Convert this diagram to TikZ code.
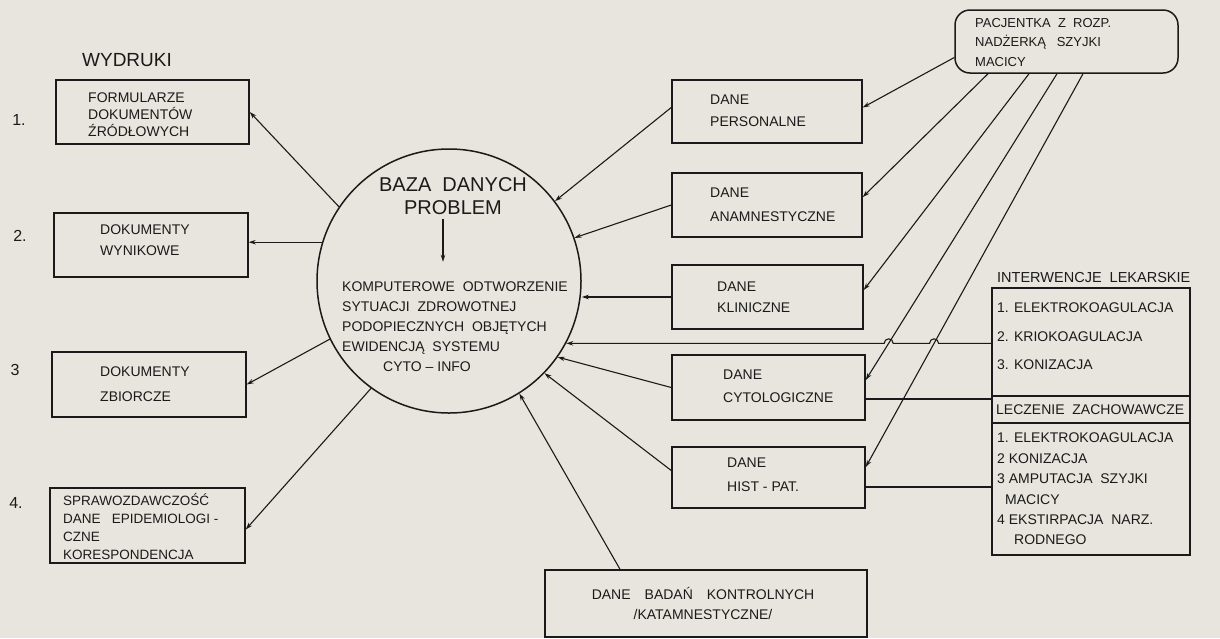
\documentclass[tikz,border=0pt]{standalone}
\usepackage{fontspec}
\setmainfont{Liberation Sans}
\usetikzlibrary{arrows.meta,intersections,calc}
\definecolor{paper}{RGB}{231,229,221}
\definecolor{ink}{RGB}{26,26,26}

\begin{document}
\begin{tikzpicture}[x=1pt,y=-1pt,
  box/.style={draw=ink, line width=1.5pt, rectangle, inner sep=0pt},
  txt/.style={text=ink, align=left, inner sep=0pt, anchor=west},
  fs/.style 2 args={font=\fontsize{#1}{#2}\selectfont},
  ln/.style={draw=ink, line width=1.1pt},
  arr/.style={ln, -{Stealth[length=7pt,width=4.5pt]}}
]
\fill[paper] (0,0) rectangle (1220,638);
\useasboundingbox (0,0) rectangle (1220,638);

% central data base
\node[circle, draw=ink, line width=1.5pt, minimum size=264pt, inner sep=0pt] (base) at (449,281) {};
\node[text=ink, align=center, inner sep=0pt, fs={20}{23}] (bz) at (453,196) {BAZA\ \ DANYCH\\PROBLEM};
\node[txt, fs={14}{20}] (kt) at (342,327) {KOMPUTEROWE\ \ ODTWORZENIE\\SYTUACJI\ \ ZDROWOTNEJ\\PODOPIECZNYCH\ \ OBJĘTYCH\\EWIDENCJĄ\ \ SYSTEMU\\\hspace*{41pt}CYTO – INFO};
\draw[arr] ([xshift=-10pt,yshift=-4pt]bz.south) -- ++(0,43);

% printouts
\node[text=ink, inner sep=0pt, fs={19}{22}] (wyd) at (127,60) {WYDRUKI};
\node[text=ink, inner sep=0pt, fs={16}{18}] (n1) at (19,120) {1.};
\node[text=ink, inner sep=0pt, fs={16}{18}] (n2) at (20,236) {2.};
\node[text=ink, inner sep=0pt, fs={16}{18}] (n3) at (15,370) {3};
\node[text=ink, inner sep=0pt, fs={16}{18}] (n4) at (16,503) {4.};

\node[box, minimum width=193pt, minimum height=64pt] (b1) at (152.5,112) {};
\node[box, minimum width=194pt, minimum height=64pt] (b2) at (151,245) {};
\node[box, minimum width=194pt, minimum height=65pt] (b3) at (149,384.5) {};
\node[box, minimum width=195pt, minimum height=75pt] (b4) at (147.5,525.5) {};
\node[txt, fs={14}{17}] (b1t) at (88,115) {FORMULARZE\\DOKUMENTÓW\\ŹRÓDŁOWYCH};
\node[txt, fs={14}{21}] (b2t) at (100,240.5) {DOKUMENTY\\WYNIKOWE};
\node[txt, fs={14}{25}] (b3t) at (100,384.5) {DOKUMENTY\\ZBIORCZE};
\node[txt, fs={13.5}{17.7}] (b4t) at (63,526.5) {SPRAWOZDAWCZOŚĆ\\DANE\ \ \ EPIDEMIOLOGI -\\CZNE\\KORESPONDENCJA};

% data boxes
\node[box, minimum width=190pt, minimum height=63pt] (pers) at (767,111.5) {};
\node[box, minimum width=190pt, minimum height=64pt] (anam) at (767,205) {};
\node[box, minimum width=191pt, minimum height=64pt] (klin) at (767.5,297) {};
\node[box, minimum width=193pt, minimum height=65pt] (cyto) at (768.5,387.5) {};
\node[box, minimum width=193pt, minimum height=61pt] (hist) at (768.5,477.5) {};
\node[box, minimum width=322pt, minimum height=67pt] (bad) at (706,603.5) {};
\node[txt, fs={14}{22}] (perst) at (710,111) {DANE\\PERSONALNE};
\node[txt, fs={14}{24}] (anamt) at (710,205) {DANE\\ANAMNESTYCZNE};
\node[txt, fs={14}{21}] (klint) at (717,297.5) {DANE\\KLINICZNE};
\node[txt, fs={14}{23}] (cytot) at (723,386.5) {DANE\\CYTOLOGICZNE};
\node[txt, fs={14}{24}] (histt) at (727,475) {DANE\\HIST - PAT.};
\node[text=ink, align=center, inner sep=0pt, fs={14}{20}] (badt) at (703,603) {DANE\quad BADAŃ\quad KONTROLNYCH\\/KATAMNESTYCZNE/};

% patient
\node[box, rounded corners=15pt, minimum width=223pt, minimum height=63pt] (pac) at (1066.5,41.5) {};
\node[txt, fs={13}{19.5}] (pact) at (975,42.5) {PACJENTKA\ \ Z\ \ ROZP.\\NADŻERKĄ\ \ \ SZYJKI\\MACICY};

% medical interventions
\node[txt, fs={14.5}{17}] (ivh) at (997,277) {INTERWENCJE\ \ LEKARSKIE};
\node[box, minimum width=198pt, minimum height=108pt] (iv) at (1091,342) {};
\node[box, minimum width=198pt, minimum height=27pt] (lz) at (1091,409.5) {};
\node[box, minimum width=198pt, minimum height=132pt] (lk) at (1091,489) {};
\node[txt, fs={14}{28.5}] (ivt) at (997,336.5) {1. ELEKTROKOAGULACJA\\2. KRIOKOAGULACJA\\3. KONIZACJA};
\node[txt, fs={14}{17}] (lzt) at (996,409.5) {LECZENIE\ \ ZACHOWAWCZE};
\node[txt, fs={14}{20.4}] (lkt) at (997,489) {1. ELEKTROKOAGULACJA\\2 KONIZACJA\\3 AMPUTACJA\ \ SZYJKI\\\hspace*{8pt}MACICY\\4 EKSTIRPACJA\ \ NARZ.\\\hspace*{17pt}RODNEGO};

% outputs of the data base
\draw[arr] (base.146) -- (b1.east);
\draw[arr] (base.163) -- (base.163 -| b2.east);
\draw[arr] (base.206) -- (b3.east);
\draw[arr] (base.234) -- ([yshift=-4pt]b4.east);

% inputs of the data base
\draw[arr] ([yshift=4pt]pers.west) -- (base.37);
\draw[arr] (anam.west) -- (base.19);
\draw[arr] (klin.west) -- (klin.west -| base.east);
\draw[arr] (cyto.west) -- (base.325);
\draw[arr] ([yshift=7pt]hist.west) -- (base.316);
\draw[arr] ([xshift=-86pt]bad.north) -- (base.302);

% from the patient to the data boxes
\draw[arr] ([yshift=-16pt]pac.west) -- ([yshift=4pt]pers.east);
\draw[arr] ([xshift=-78.5pt]pac.south) -- ([yshift=8pt]anam.east);
\draw[arr] ([xshift=-37.5pt]pac.south) -- ([yshift=7pt]klin.east);
\draw[arr, name path=l4] ([xshift=-9.5pt]pac.south) -- ([yshift=7.5pt]cyto.east);
\draw[arr, name path=l5] ([xshift=16.5pt]pac.south) -- ([yshift=10.5pt]hist.east);

% interventions back to the data base, hopping over two lines
\path[name path=hl] (base.332) -- (base.332 -| iv.west);
\path[name intersections={of=hl and l4, by=h1}];
\path[name intersections={of=hl and l5, by=h2}];
\draw[arr] (base.332 -| iv.west) -- ([xshift=4.5pt]h2)
  arc[start angle=0, end angle=180, radius=4.5pt] -- ([xshift=4.5pt]h1)
  arc[start angle=0, end angle=180, radius=4.5pt] -- (base.332);

% treatment links
\draw[ln] ([yshift=-11.5pt]cyto.east) -- ([yshift=-11.5pt]cyto.east -| lz.west);
\draw[ln] ([yshift=-9.5pt]hist.east) -- ([yshift=-9.5pt]hist.east -| lk.west);
\end{tikzpicture}
\end{document}
